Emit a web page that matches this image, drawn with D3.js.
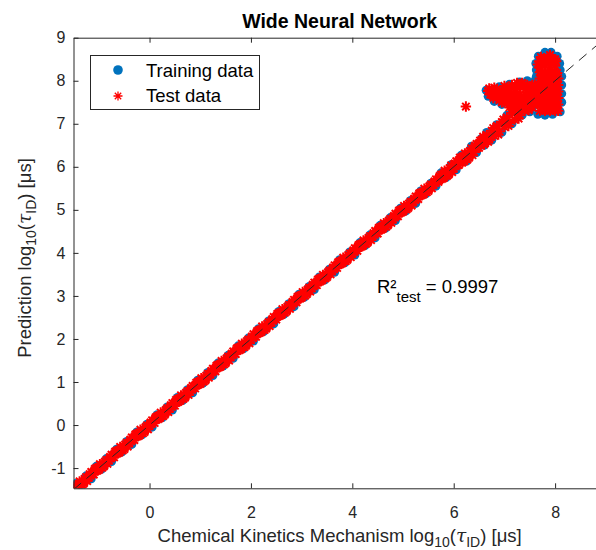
<!DOCTYPE html>
<html>
<head>
<meta charset="utf-8">
<script src="https://cdn.jsdelivr.net/npm/d3@7"></script>
<style>
body { margin: 0; background: #fff; }
svg { display: block; font-family: "Liberation Sans", Arial, sans-serif; }
</style>
</head>
<body>
<svg width="596" height="550"></svg>
<script>
var xTicks = [0, 2, 4, 6, 8];
var yTicks = [-1, 0, 1, 2, 3, 4, 5, 6, 7, 8, 9];
var seriesNames = ["Training data", "Test data"];
var titleText = "Wide Neural Network";
var r2Text = "0.9997";

// training points along the diagonal
var trainBand = [
  [-1.45,-1.36],[-1.35,-1.43],[-1.25,-1.18],[-1.15,-1.25],
  [-1.05,-0.96],[-0.95,-1.03],[-0.85,-0.78],[-0.75,-0.85],
  [-0.65,-0.56],[-0.55,-0.63],[-0.45,-0.38],[-0.35,-0.45],
  [-0.25,-0.16],[-0.15,-0.23],[-0.05,0.02],[0.05,-0.05],
  [0.15,0.24],[0.25,0.17],[0.35,0.42],[0.45,0.35],
  [0.55,0.64],[0.65,0.57],[0.75,0.82],[0.85,0.75],
  [0.95,1.04],[1.05,0.97],[1.15,1.22],[1.25,1.15],
  [1.35,1.44],[1.45,1.37],[1.55,1.62],[1.65,1.55],
  [1.75,1.84],[1.85,1.77],[1.95,2.02],[2.05,1.95],
  [2.15,2.24],[2.25,2.17],[2.35,2.42],[2.45,2.35],
  [2.55,2.64],[2.65,2.57],[2.75,2.82],[2.85,2.75],
  [2.95,3.04],[3.05,2.97],[3.15,3.22],[3.25,3.15],
  [3.35,3.44],[3.45,3.37],[3.55,3.62],[3.65,3.55],
  [3.75,3.84],[3.85,3.77],[3.95,4.02],[4.05,3.95],
  [4.15,4.24],[4.25,4.17],[4.35,4.42],[4.45,4.35],
  [4.55,4.64],[4.65,4.57],[4.75,4.82],[4.85,4.75],
  [4.95,5.04],[5.05,4.97],[5.15,5.22],[5.25,5.15],
  [5.35,5.44],[5.45,5.37],[5.55,5.62],[5.65,5.55],
  [5.75,5.86],[5.85,5.75],[5.95,6.05],[6.05,5.93],
  [6.15,6.27],[6.25,6.13],[6.35,6.48],[6.45,6.33],[6.55,6.66]
];

// training points in the upper-right cluster
var trainCluster = [
  [6.6,6.5],[6.65,6.8],[6.75,6.62],[6.85,6.98],[6.95,6.8],[7.05,7.2],[7.15,7.0],
  [7.25,7.42],[7.35,7.2],[7.45,7.62],[7.55,7.38],[7.65,7.8],[7.75,7.5],[7.85,7.95],
  [6.64,7.78],[6.68,7.64],[6.8,7.52],[6.9,7.86],[6.95,7.45],[7.1,7.92],[7.15,7.38],
  [7.3,7.97],[7.3,7.34],[7.45,8.0],[7.5,7.28],[7.6,8.0],
  [7.66,7.22],[7.8,7.2],[7.95,7.22],[8.1,7.28],[8.13,7.5],[8.13,7.7],[8.13,7.9],
  [8.13,8.1],[8.1,8.25],[7.63,8.1],[7.63,8.25],
  [7.62,8.4],[7.67,8.57],[7.8,8.66],[7.92,8.66],[8.04,8.57],[8.09,8.4]
];

// test points along the diagonal
var testBand = [
  [-1.45,-1.40],[-1.40,-1.44],[-1.35,-1.34],[-1.30,-1.36],[-1.25,-1.21],[-1.20,-1.22],[-1.15,-1.09],[-1.10,-1.15],
  [-1.05,-1.00],[-1.00,-1.04],[-0.95,-0.94],[-0.90,-0.96],[-0.85,-0.81],[-0.80,-0.82],[-0.75,-0.69],[-0.70,-0.75],
  [-0.65,-0.60],[-0.60,-0.64],[-0.55,-0.54],[-0.50,-0.56],[-0.45,-0.41],[-0.40,-0.42],[-0.35,-0.29],[-0.30,-0.35],
  [-0.25,-0.20],[-0.20,-0.24],[-0.15,-0.14],[-0.10,-0.16],[-0.05,-0.01],[0.00,-0.02],[0.05,0.11],[0.10,0.05],
  [0.15,0.20],[0.20,0.16],[0.25,0.26],[0.30,0.24],[0.35,0.39],[0.40,0.38],[0.45,0.51],[0.50,0.45],
  [0.55,0.60],[0.60,0.56],[0.65,0.66],[0.70,0.64],[0.75,0.79],[0.80,0.78],[0.85,0.91],[0.90,0.85],
  [0.95,1.00],[1.00,0.96],[1.05,1.06],[1.10,1.04],[1.15,1.19],[1.20,1.18],[1.25,1.31],[1.30,1.25],
  [1.35,1.40],[1.40,1.36],[1.45,1.46],[1.50,1.44],[1.55,1.59],[1.60,1.58],[1.65,1.71],[1.70,1.65],
  [1.75,1.80],[1.80,1.76],[1.85,1.86],[1.90,1.84],[1.95,1.99],[2.00,1.98],[2.05,2.11],[2.10,2.05],
  [2.15,2.20],[2.20,2.16],[2.25,2.26],[2.30,2.24],[2.35,2.39],[2.40,2.38],[2.45,2.51],[2.50,2.45],
  [2.55,2.60],[2.60,2.56],[2.65,2.66],[2.70,2.64],[2.75,2.79],[2.80,2.78],[2.85,2.91],[2.90,2.85],
  [2.95,3.00],[3.00,2.96],[3.05,3.06],[3.10,3.04],[3.15,3.19],[3.20,3.18],[3.25,3.31],[3.30,3.25],
  [3.35,3.40],[3.40,3.36],[3.45,3.46],[3.50,3.44],[3.55,3.59],[3.60,3.58],[3.65,3.71],[3.70,3.65],
  [3.75,3.80],[3.80,3.76],[3.85,3.86],[3.90,3.84],[3.95,3.99],[4.00,3.98],[4.05,4.11],[4.10,4.05],
  [4.15,4.20],[4.20,4.16],[4.25,4.26],[4.30,4.24],[4.35,4.39],[4.40,4.38],[4.45,4.51],[4.50,4.45],
  [4.55,4.60],[4.60,4.56],[4.65,4.66],[4.70,4.64],[4.75,4.79],[4.80,4.78],[4.85,4.91],[4.90,4.85],
  [4.95,5.00],[5.00,4.96],[5.05,5.06],[5.10,5.04],[5.15,5.19],[5.20,5.18],[5.25,5.31],[5.30,5.25],
  [5.35,5.40],[5.40,5.36],[5.45,5.46],[5.50,5.44],[5.55,5.59],[5.60,5.58],[5.65,5.71],[5.70,5.65],
  [5.75,5.82],[5.80,5.74],[5.85,5.88],[5.90,5.82],[5.95,6.03],[6.00,5.96],[6.05,6.13],[6.10,6.04],
  [6.15,6.22],[6.20,6.13],[6.25,6.29],[6.30,6.21],[6.35,6.43],[6.40,6.34],[6.45,6.53],[6.50,6.44],
  [-1.43,-1.46],[-1.38,-1.31],[-1.33,-1.39],[-1.28,-1.25],[-1.23,-1.30],[-1.18,-1.14],[-1.13,-1.14],[-1.08,-1.02],
  [-1.03,-1.06],[-0.98,-0.91],[-0.93,-0.99],[-0.88,-0.85],[-0.83,-0.90],[-0.78,-0.74],[-0.73,-0.74],[-0.68,-0.62],
  [-0.63,-0.66],[-0.58,-0.51],[-0.53,-0.59],[-0.48,-0.45],[-0.43,-0.50],[-0.38,-0.34],[-0.33,-0.34],[-0.28,-0.22],
  [-0.23,-0.26],[-0.18,-0.11],[-0.13,-0.19],[-0.08,-0.05],[-0.03,-0.10],[0.02,0.06],[0.07,0.06],[0.12,0.18],
  [0.17,0.14],[0.22,0.29],[0.27,0.21],[0.32,0.35],[0.37,0.30],[0.42,0.46],[0.47,0.46],[0.52,0.58],
  [0.57,0.54],[0.62,0.69],[0.67,0.61],[0.72,0.75],[0.77,0.70],[0.82,0.86],[0.87,0.86],[0.92,0.98],
  [0.97,0.94],[1.02,1.09],[1.07,1.01],[1.12,1.15],[1.17,1.10],[1.22,1.26],[1.27,1.26],[1.32,1.38],
  [1.37,1.34],[1.42,1.49],[1.47,1.41],[1.52,1.55],[1.57,1.50],[1.62,1.66],[1.67,1.66],[1.72,1.78],
  [1.77,1.74],[1.82,1.89],[1.87,1.81],[1.92,1.95],[1.97,1.90],[2.02,2.06],[2.07,2.06],[2.12,2.18],
  [2.17,2.14],[2.22,2.29],[2.27,2.21],[2.32,2.35],[2.37,2.30],[2.42,2.46],[2.47,2.46],[2.52,2.58],
  [2.57,2.54],[2.62,2.69],[2.67,2.61],[2.72,2.75],[2.77,2.70],[2.82,2.86],[2.87,2.86],[2.92,2.98],
  [2.97,2.94],[3.02,3.09],[3.07,3.01],[3.12,3.15],[3.17,3.10],[3.22,3.26],[3.27,3.26],[3.32,3.38],
  [3.37,3.34],[3.42,3.49],[3.47,3.41],[3.52,3.55],[3.57,3.50],[3.62,3.66],[3.67,3.66],[3.72,3.78],
  [3.77,3.74],[3.82,3.89],[3.87,3.81],[3.92,3.95],[3.97,3.90],[4.02,4.06],[4.07,4.06],[4.12,4.18],
  [4.17,4.14],[4.22,4.29],[4.27,4.21],[4.32,4.35],[4.37,4.30],[4.42,4.46],[4.47,4.46],[4.52,4.58],
  [4.57,4.54],[4.62,4.69],[4.67,4.61],[4.72,4.75],[4.77,4.70],[4.82,4.86],[4.87,4.86],[4.92,4.98],
  [4.97,4.94],[5.02,5.09],[5.07,5.01],[5.12,5.15],[5.17,5.10],[5.22,5.26],[5.27,5.26],[5.32,5.38],
  [5.37,5.34],[5.42,5.49],[5.47,5.41],[5.52,5.55],[5.57,5.50],[5.62,5.66],[5.67,5.66],[5.72,5.78],
  [5.77,5.72],[5.82,5.91],[5.87,5.79],[5.92,5.97],[5.97,5.88],[6.02,6.08],[6.07,6.04],[6.12,6.21],
  [6.17,6.10],[6.22,6.31],[6.27,6.17],[6.32,6.37],[6.37,6.27],[6.42,6.49],[6.47,6.44],[6.52,6.61]
];

// test points in the upper-right cluster
var testCluster = [
  [6.55,6.62],[6.60,6.52],[6.65,6.74],[6.70,6.63],[6.75,6.84],[6.80,6.72],[6.85,6.95],[6.90,6.82],
  [6.95,7.04],[7.00,6.93],[7.05,7.15],[7.10,7.02],[7.15,7.25],[7.20,7.10],[7.25,7.35],[7.30,7.20],
  [7.35,7.45],[7.40,7.30],[7.45,7.55],[7.50,7.40],[7.55,7.62],[7.60,7.50],[7.65,7.70],[7.70,7.55],
  [7.75,7.80],[7.80,7.65],[7.85,7.85],[7.90,7.75],
  [6.58,6.70],[6.68,6.58],[6.78,6.90],[6.88,6.75],[6.98,7.10],[7.08,6.95],[7.18,7.30],
  [7.28,7.12],[7.38,7.50],[7.48,7.32],[7.58,7.70],[7.68,7.48],[7.78,7.85],[7.88,7.62],
  [7.70,7.30],[7.80,7.30],[7.90,7.30],[8.00,7.30],[8.06,7.30],
  [7.70,7.45],[7.80,7.45],[7.90,7.45],[8.00,7.45],[8.06,7.45],
  [7.70,7.60],[7.80,7.60],[7.90,7.60],[8.00,7.60],[8.06,7.60],
  [7.70,7.75],[7.80,7.75],[7.90,7.75],[8.00,7.75],[8.06,7.75],
  [7.70,7.90],[7.80,7.90],[7.90,7.90],[8.00,7.90],[8.06,7.90],
  [7.70,8.05],[7.80,8.05],[7.90,8.05],[8.00,8.05],[8.06,8.05],
  [7.70,8.20],[7.80,8.20],[7.90,8.20],[8.00,8.20],[8.04,8.18],
  [7.75,7.38],[7.85,7.38],[7.95,7.38],[8.03,7.38],
  [7.75,7.52],[7.85,7.52],[7.95,7.52],[8.03,7.52],
  [7.75,7.68],[7.85,7.68],[7.95,7.68],[8.03,7.68],
  [7.75,7.82],[7.85,7.82],[7.95,7.82],[8.03,7.82],
  [7.75,7.98],[7.85,7.98],[7.95,7.98],[8.03,7.98],
  [7.75,8.12],[7.85,8.12],[7.95,8.12],[8.03,8.12],
  [7.70,8.30],[7.80,8.35],[7.90,8.30],[8.00,8.35],[7.75,8.50],[7.85,8.55],[7.95,8.52],
  [7.70,8.45],[8.02,8.45],[7.82,8.42],[7.66,8.38],[7.75,8.40],[7.90,8.42],[7.80,8.50],
  [7.90,8.60],[7.72,8.55],[8.00,8.50],
  [6.68,7.76],[6.72,7.68],[6.78,7.60],[6.85,7.70],[6.90,7.55],[6.95,7.78],[7.00,7.60],
  [7.05,7.48],[7.10,7.82],[7.15,7.62],[7.20,7.45],[7.25,7.85],[7.30,7.68],[7.35,7.50],
  [7.40,7.90],[7.45,7.72],[7.50,7.55],[7.55,7.38],[7.60,7.90],[7.60,7.65],[7.35,7.35],
  [7.45,7.40],[7.25,7.95],[7.50,7.85],[7.60,7.78],
  [6.75,7.72],[6.82,7.66],[6.88,7.62],[6.92,7.70],[7.02,7.70],[7.08,7.55],[7.12,7.70],
  [7.18,7.52],[7.22,7.75],[7.28,7.58],[7.32,7.85],[7.38,7.62],[7.42,7.80],[7.48,7.65],
  [7.52,7.48],[7.55,7.90],[7.58,7.55],[7.40,7.45],[7.30,7.42],
  [6.70,7.82],[6.80,7.84],[6.85,7.80],[7.00,7.88],[7.05,7.72],[7.15,7.90],[7.20,7.68],
  [7.35,7.95],[7.45,7.90],[7.45,7.55],[7.50,7.70],[7.55,7.60],[6.95,7.50],[7.10,7.38],
  [7.20,7.32],[7.25,7.50],[7.40,7.60],[7.58,7.45]
];

var testOutlier = [[6.24, 7.40]];

var svg = d3.select("svg"),
    width = +svg.attr("width"),
    height = +svg.attr("height");

var x = d3.scaleLinear()
    .domain([-1.5, 9])
    .range([73.5, 605.8]);

var y = d3.scaleLinear()
    .domain([-1.47, 9])
    .range([488.3, 37.7]);

var axisColor = "#262626";

svg.append("defs").append("clipPath")
    .attr("id", "clip")
  .append("rect")
    .attr("x", x.range()[0])
    .attr("y", y.range()[1])
    .attr("width", x.range()[1] - x.range()[0])
    .attr("height", y.range()[0] - y.range()[1]);

// markers
var plot = svg.append("g").attr("clip-path", "url(#clip)");

plot.append("g")
  .selectAll("circle")
  .data(trainBand.concat(trainCluster))
  .enter().append("circle")
    .attr("cx", function(d) { return x(d[0]); })
    .attr("cy", function(d) { return y(d[1]); })
    .attr("r", 4.5)
    .attr("fill", "#0072BD");

var star = "M-5.2,0H5.2M0,-5.2V5.2M-3.7,-3.7L3.7,3.7M-3.7,3.7L3.7,-3.7";
var legendStar = "M-4.5,0H4.5M0,-4.5V4.5M-3.2,-3.2L3.2,3.2M-3.2,3.2L3.2,-3.2";

plot.append("g")
  .selectAll("path")
  .data(testBand.concat(testCluster, testOutlier))
  .enter().append("path")
    .attr("transform", function(d) { return "translate(" + x(d[0]) + "," + y(d[1]) + ")"; })
    .attr("d", star)
    .attr("fill", "none")
    .attr("stroke", "#ff0000")
    .attr("stroke-width", 2);

// y = x reference line
plot.append("line")
    .attr("x1", x(-1.5)).attr("y1", y(-1.5))
    .attr("x2", x(9)).attr("y2", y(9))
    .attr("stroke", "#262626")
    .attr("stroke-width", 1)
    .attr("stroke-dasharray", "10,7");

// axes
function styleAxis(g) {
  g.select(".domain").attr("stroke", axisColor);
  g.selectAll(".tick line").attr("stroke", axisColor);
  g.selectAll(".tick text")
      .attr("fill", axisColor)
      .attr("font-size", 16)
      .attr("font-family", "Liberation Sans, Arial, sans-serif");
}

svg.append("g")
    .attr("transform", "translate(0," + y.range()[0] + ")")
    .call(d3.axisBottom(x).tickValues(xTicks).tickFormat(String).tickSizeInner(-5).tickSizeOuter(0).tickPadding(18))
    .call(styleAxis);

svg.append("g")
    .attr("transform", "translate(0," + y.range()[1] + ")")
    .call(d3.axisTop(x).tickValues(xTicks).tickSizeInner(-5).tickSizeOuter(0).tickFormat(""))
    .call(styleAxis);

svg.append("g")
    .attr("transform", "translate(" + x.range()[0] + ",0)")
    .call(d3.axisLeft(y).tickValues(yTicks).tickFormat(String).tickSizeInner(-5).tickSizeOuter(0).tickPadding(8))
    .call(styleAxis);

// title
svg.append("text")
    .attr("x", (x.range()[0] + x.range()[1]) / 2)
    .attr("y", 28)
    .attr("text-anchor", "middle")
    .attr("font-size", 19.5)
    .attr("font-weight", "bold")
    .attr("fill", "#000")
    .text(titleText);

// x label
var xl = svg.append("text")
    .attr("x", (x.range()[0] + x.range()[1]) / 2)
    .attr("y", 542)
    .attr("text-anchor", "middle")
    .attr("font-size", 18.5)
    .attr("fill", axisColor);
xl.append("tspan").text("Chemical Kinetics Mechanism log");
xl.append("tspan").attr("dy", 5).attr("font-size", 14).text("10");
xl.append("tspan").attr("dy", -5).text("(");
xl.append("tspan").attr("font-family", "DejaVu Serif, serif").attr("font-style", "italic").text("τ");
xl.append("tspan").attr("dy", 5).attr("font-size", 14).text("ID");
xl.append("tspan").attr("dy", -5).text(") [μs]");

// y label
var yl = svg.append("text")
    .attr("transform", "translate(31,258) rotate(-90)")
    .attr("text-anchor", "middle")
    .attr("font-size", 18.5)
    .attr("fill", axisColor);
yl.append("tspan").text("Prediction log");
yl.append("tspan").attr("dy", 5).attr("font-size", 14).text("10");
yl.append("tspan").attr("dy", -5).text("(");
yl.append("tspan").attr("font-family", "DejaVu Serif, serif").attr("font-style", "italic").text("τ");
yl.append("tspan").attr("dy", 5).attr("font-size", 14).text("ID");
yl.append("tspan").attr("dy", -5).text(") [μs]");

// R² annotation
var r2 = svg.append("text")
    .attr("x", 377)
    .attr("y", 293)
    .attr("font-size", 18.5)
    .attr("fill", "#000");
r2.append("tspan").text("R²");
r2.append("tspan").attr("dy", 9).attr("font-size", 15).text("test");
r2.append("tspan").attr("dy", -9).text(" = " + r2Text);

// legend
var legend = svg.append("g");
legend.append("rect")
    .attr("x", 90.5).attr("y", 55.5)
    .attr("width", 169).attr("height", 54)
    .attr("fill", "#fff")
    .attr("stroke", axisColor);

legend.append("circle")
    .attr("cx", 118).attr("cy", 70)
    .attr("r", 4.8)
    .attr("fill", "#0072BD");
legend.append("path")
    .attr("transform", "translate(118,96)")
    .attr("d", legendStar)
    .attr("fill", "none")
    .attr("stroke", "#ff0000")
    .attr("stroke-width", 1.3);

legend.selectAll("text")
  .data(seriesNames)
  .enter().append("text")
    .attr("x", 146)
    .attr("y", function(d, i) { return 77 + i * 25; })
    .attr("font-size", 18.5)
    .attr("fill", "#000")
    .text(function(d) { return d; });
</script>
</body>
</html>
